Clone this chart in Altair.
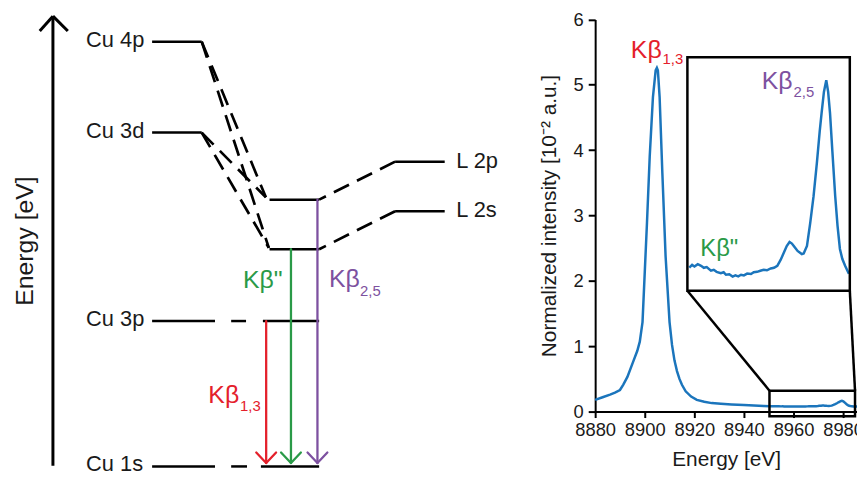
import altair as alt
import pandas as pd

FONT = "Liberation Sans"
BLUE = "#1b75bc"
RED = "#e4202b"
GREEN = "#2a9a48"
PURPLE = "#7d51a0"
INK = "#1a1a1a"

# ---------------- spectrum (Cu K-beta emission) ----------------
energy = [8880, 8883, 8886, 8888, 8890, 8891.3, 8893, 8895.3, 8897, 8898, 8899.1,
          8900, 8900.9, 8902, 8903.3, 8904.4, 8904.9, 8905.3, 8906, 8907.1, 8908.4,
          8910, 8911, 8912, 8913, 8914, 8915, 8916.5, 8918.7, 8921, 8924, 8927,
          8930.7, 8935, 8940, 8944, 8948,
          8950.4, 8951.0, 8951.5, 8952.2, 8952.9, 8953.5, 8954.1, 8955.0, 8955.6,
          8956.2, 8957.1, 8957.7, 8958.2, 8958.9, 8959.6, 8960.2, 8960.8, 8961.4,
          8962.0, 8962.7, 8963.5, 8964.1, 8964.8, 8965.5, 8966.2, 8966.9, 8967.7,
          8968.4, 8969.1, 8969.8, 8970.5, 8971.1, 8971.7, 8972.2, 8972.6, 8973.4,
          8974.3, 8974.7, 8975.4, 8976.1, 8976.8, 8977.5, 8978.1, 8978.5, 8979.0,
          8979.5, 8979.9, 8980.3, 8980.8, 8981.4, 8981.9, 8982.4, 8982.9, 8983.5,
          8984.3, 8985.6]
intensity = [0.18, 0.22, 0.26, 0.29, 0.33, 0.41, 0.53, 0.76, 0.93, 1.07, 1.37,
             2.13, 2.89, 3.90, 4.81, 5.22, 5.26, 5.22, 4.81, 3.65, 2.38,
             1.37, 1.02, 0.78, 0.62, 0.50, 0.41, 0.31, 0.23, 0.18, 0.15, 0.13,
             0.12, 0.11, 0.10, 0.092, 0.086,
             0.0813, 0.0825, 0.0818, 0.0828, 0.0821, 0.0812, 0.0815, 0.0799, 0.0803,
             0.0794, 0.0788, 0.0792, 0.0781, 0.0783, 0.0773, 0.0778, 0.0774, 0.0781,
             0.0778, 0.0786, 0.0784, 0.0792, 0.0794, 0.0799, 0.0803, 0.0801, 0.0809,
             0.0812, 0.0821, 0.0847, 0.0880, 0.0909, 0.0927, 0.0920, 0.0909, 0.0887,
             0.0873, 0.0876, 0.0909, 0.1013, 0.1131, 0.1278, 0.1419, 0.1500, 0.1596,
             0.1648, 0.1596, 0.1500, 0.1330, 0.1131, 0.0998, 0.0896, 0.0852, 0.0821,
             0.0785, 0.0780]

x_ticks = [8880, 8900, 8920, 8940, 8960, 8980]
y_ticks = [0, 1, 2, 3, 4, 5, 6]

# zoom window and inset frame, in main-axes units
zoom_e = [8950.3, 8984.8]
zoom_i = [-0.07, 0.32]
frame_e = [8917.2, 8982.7]
frame_i = [1.85, 5.42]
inset_e_domain = [8950, 8984.5]
inset_i_domain = [0.071, 0.175]

# ---------------- energy-level diagram (diagram units) ----------------
solid_x1 = [153.3, 153.3, 153.3, 233, 265, 153.3, 233, 263, 271.7, 271.7, 398.3, 398.3, 53.3, 40, 53.3]
solid_x2 = [203.3, 203.3, 216.7, 248, 321.7, 216.7, 249, 321.7, 321.7, 321.7, 448.3, 448.3, 53.3, 53.3, 68.3]
solid_y1 = [44, 135.7, 325.7, 325.7, 325.7, 472.3, 472.3, 472.3, 203.3, 253.3, 165, 215, 471.7, 33.3, 18.3]
solid_y2 = [44, 135.7, 325.7, 325.7, 325.7, 472.3, 472.3, 472.3, 203.3, 253.3, 165, 215, 19.5, 18.3, 33.3]
solid_w = [2.5] * 12 + [3, 3, 3]

dash_x1 = [203.3, 203.3, 203.3, 203.3, 398.3, 398.3]
dash_y1 = [44, 44, 135.7, 135.7, 165, 215]
dash_x2 = [268, 271, 268, 271, 321.7, 321.7]
dash_y2 = [201, 252, 201, 252, 203.3, 253.3]

arrow_x1 = [268.3, 258.3, 268.3, 293.3, 283.3, 293.3, 320, 310, 320]
arrow_y1 = [325.7, 458.3, 468.8, 253.3, 458.3, 468.8, 203.3, 458.3, 468.8]
arrow_x2 = [268.3, 268.3, 278.3, 293.3, 293.3, 303.3, 320, 320, 330]
arrow_y2 = [468.8, 468.8, 458.3, 468.8, 468.8, 458.3, 468.8, 468.8, 458.3]
arrow_c = [RED] * 3 + [GREEN] * 3 + [PURPLE] * 3

label_text = ["Cu 4p", "Cu 3d", "Cu 3p", "Cu 1s", "L 2p", "L 2s",
              "Kβ\"", "Kβ", "2,5", "Kβ", "1,3",
              "Kβ", "1,3", "Kβ", "2,5", "Kβ\""]
label_x = [86.7, 86.7, 86.7, 86.7, 460, 460,
           245, 331.7, 363, 210, 242,
           636, 668, 768, 800, 706]
label_y = [49.5, 141, 331, 477, 171, 221,
           292, 291, 300, 408.3, 416.7,
           60, 66.7, 92, 100, 260]
label_size = [22, 22, 22, 22, 22, 22,
              25, 25, 15, 25, 15,
              25, 15, 25, 15, 24]
label_color = [INK] * 6 + [GREEN, PURPLE, PURPLE, RED, RED,
                           RED, RED, PURPLE, PURPLE, GREEN]

# ---------------- scales ----------------
W, H = 856, 466          # whole drawing (autosize none)
DX, DY = 8, 12           # diagram-unit origin offset
PX = alt.Scale(domain=[DX, DX + W], range=[0, W], nice=False, zero=False)
PY = alt.Scale(domain=[DY, DY + H], range=[0, H], nice=False, zero=False)

X0 = 600 - DX            # x position of 8880
Y0 = 417 - DY            # y position of intensity 0
Y6 = 21.6 - DY           # y position of intensity 6
E_MAX = 8880 + (W - X0) / 2.5


def mx(e):
    return X0 + (e - 8880) * 2.5


def my(v):
    return Y0 - v * (Y0 - Y6) / 6.0


MX = alt.Scale(domain=[8880, E_MAX], range=[X0, W], nice=False, zero=False)
MY = alt.Scale(domain=[0, 6], range=[Y0, Y6], nice=False, zero=False)
IX = alt.Scale(domain=inset_e_domain, range=[mx(frame_e[0]), mx(frame_e[1])], nice=False, zero=False)
IY = alt.Scale(domain=inset_i_domain, range=[my(frame_i[0]), my(frame_i[1])], nice=False, zero=False)

spec = pd.DataFrame({"energy": energy, "intensity": intensity})

axis_common = dict(
    grid=False, tickWidth=2, domainWidth=2, domainColor="black", tickColor="black",
    labelFontSize=18.5, titleFontSize=21, labelColor=INK, titleColor=INK,
    labelFont=FONT, titleFont=FONT, titleFontWeight="normal",
    labelFlush=False, labelOverlap=False,
)

main_line = alt.Chart(spec).mark_line(color=BLUE, strokeWidth=2.5).encode(
    x=alt.X("energy:Q", scale=MX, axis=alt.Axis(
        orient="bottom", offset=-(H - Y0), values=x_ticks, format="d",
        title="Energy [eV]", tickSize=6, labelPadding=3, titlePadding=10,
        **axis_common)),
    y=alt.Y("intensity:Q", scale=MY, axis=alt.Axis(
        orient="left", offset=-X0, values=y_ticks, format="d",
        title="Normalized intensity [10⁻² a.u.]",
        tickSize=7, labelPadding=5, titlePadding=14, **axis_common)),
)

inset_line = alt.Chart(spec).transform_filter(
    (alt.datum.energy >= inset_e_domain[0]) & (alt.datum.energy <= inset_e_domain[1])
).mark_line(color=BLUE, strokeWidth=2.5).encode(
    x=alt.X("energy:Q", scale=IX, axis=None),
    y=alt.Y("intensity:Q", scale=IY, axis=None),
)

boxes = pd.DataFrame({"e1": [zoom_e[0], frame_e[0]], "e2": [zoom_e[1], frame_e[1]],
                      "i1": [zoom_i[0], frame_i[0]], "i2": [zoom_i[1], frame_i[1]]})
box_layer = alt.Chart(boxes).mark_rect(fillOpacity=0, stroke="black", strokeWidth=2.5).encode(
    x=alt.X("e1:Q", scale=MX, axis=None), x2="e2:Q",
    y=alt.Y("i1:Q", scale=MY, axis=None), y2="i2:Q",
)

connectors = pd.DataFrame({"e1": [frame_e[0], frame_e[1]], "i1": [frame_i[0], frame_i[0]],
                           "e2": [zoom_e[0], zoom_e[1]], "i2": [zoom_i[1], zoom_i[1]]})
conn_layer = alt.Chart(connectors).mark_rule(color="black", strokeWidth=2.5).encode(
    x=alt.X("e1:Q", scale=MX, axis=None), x2="e2:Q",
    y=alt.Y("i1:Q", scale=MY, axis=None), y2="i2:Q",
)

solid = pd.DataFrame({"x1": solid_x1, "x2": solid_x2, "y1": solid_y1, "y2": solid_y2, "w": solid_w})
solid_layer = alt.Chart(solid).mark_rule(color="black", strokeCap="butt").encode(
    x=alt.X("x1:Q", scale=PX, axis=None), x2="x2:Q",
    y=alt.Y("y1:Q", scale=PY, axis=None), y2="y2:Q",
    strokeWidth=alt.StrokeWidth("w:Q", scale=None),
)

dashed = pd.DataFrame({"x1": dash_x1, "x2": dash_x2, "y1": dash_y1, "y2": dash_y2})
dash_layer = alt.Chart(dashed).mark_rule(color="black", strokeWidth=2.7, strokeDash=[17, 9]).encode(
    x=alt.X("x1:Q", scale=PX, axis=None), x2="x2:Q",
    y=alt.Y("y1:Q", scale=PY, axis=None), y2="y2:Q",
)

arrows = pd.DataFrame({"x1": arrow_x1, "x2": arrow_x2, "y1": arrow_y1, "y2": arrow_y2, "c": arrow_c})
arrow_layer = alt.Chart(arrows).mark_rule(strokeWidth=2.3, strokeCap="round").encode(
    x=alt.X("x1:Q", scale=PX, axis=None), x2="x2:Q",
    y=alt.Y("y1:Q", scale=PY, axis=None), y2="y2:Q",
    color=alt.Color("c:N", scale=None),
)

labels = pd.DataFrame({"x": label_x, "y": label_y, "t": label_text, "s": label_size, "c": label_color})
label_layer = alt.Chart(labels).mark_text(align="left", baseline="alphabetic", font=FONT).encode(
    x=alt.X("x:Q", scale=PX, axis=None),
    y=alt.Y("y:Q", scale=PY, axis=None),
    text="t:N",
    size=alt.Size("s:Q", scale=None),
    color=alt.Color("c:N", scale=None),
)

ytitle = pd.DataFrame({"x": [25], "y": [245], "t": ["Energy [eV]"]})
ytitle_layer = alt.Chart(ytitle).mark_text(angle=270, align="center", baseline="middle",
                                           font=FONT, fontSize=25, color=INK).encode(
    x=alt.X("x:Q", scale=PX, axis=None),
    y=alt.Y("y:Q", scale=PY, axis=None),
    text="t:N",
)

chart = alt.layer(
    main_line, inset_line, box_layer, conn_layer,
    solid_layer, dash_layer, arrow_layer, label_layer, ytitle_layer,
).resolve_scale(x="independent", y="independent").properties(
    width=W, height=H, padding=0, background="white",
    autosize=alt.AutoSizeParams(type="none"),
).configure_view(stroke=None)

chart.save("out.html", embed_options={"renderer": "svg", "actions": False})
